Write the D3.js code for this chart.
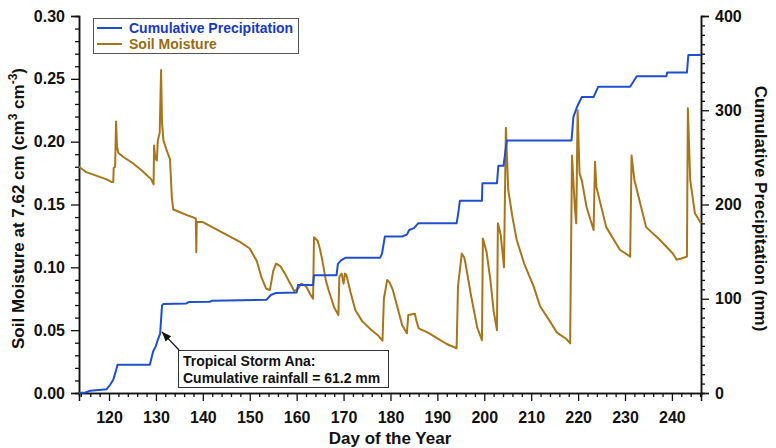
<!DOCTYPE html>
<html><head><meta charset="utf-8">
<script src="https://cdn.jsdelivr.net/npm/d3@7"></script>
<style>
body{margin:0;background:#fff}
svg{display:block}
text{font-family:"Liberation Sans",Arial,Helvetica,sans-serif;font-weight:bold}
</style>
</head><body>
<svg id="chart" width="776" height="448"></svg>
<script>
// ---- data ----
const precipDays = [113.6,115,116,119.5,120.2,120.9,121.5,121.8,128.7,129.4,130,130.3,130.9,131.3,131.6,136.5,137,141.5,142,153.6,154.5,155.5,160,160.3,163.5,163.7,168.5,168.8,169.5,170.5,177.8,178.2,178.8,182.5,183.5,184,185,185.9,194.1,194.4,194.8,199.5,199.6,202.7,203,204.1,204.8,218.6,219,219.8,220.8,223.3,224.3,231.1,232.5,238.8,239,243.2,243.5,246.2];
const precipMM   = [0,0.5,2.5,4,8.5,14,24,30,30,44,50,55,63,93,94.5,95,96.5,96.8,98,99,104,106,106.5,114.6,114.6,125,125,137,141,143.6,143.6,148,166,166,168,173,175,180,180,189,204,204,222.5,222.5,241,241,268,268,293,304,314,314,325,325,336,336,340,340,358.6,358.6];

const soilDays = [113.6,115,116.5,118,119.5,120.5,120.9,121.0,121.3,121.5,121.7,122,123,125,127,129,129.5,129.6,129.8,130.0,130.2,130.4,130.8,131.1,131.3,131.6,132.3,133.0,133.4,133.7,135,137,138.5,138.6,138.7,140,142,144,146,148,150,151.5,152.5,153.5,154.3,155.0,155.6,156.5,157.5,158.5,159.5,160.3,161,162,163,163.5,163.7,164.5,165.0,165.5,166.2,166.8,168.0,168.9,169.1,169.6,170.0,170.3,170.6,171.5,172.5,174,176,177.3,178.3,178.6,179.3,179.8,180.5,181.5,182.5,183.5,183.8,185.2,185.5,186,188,190,192,194.1,194.4,195.2,195.7,196,197.2,198.5,199.5,199.7,200.5,201.3,202.0,202.7,202.9,203.5,203.8,204.2,204.6,205.1,206,206.9,208.5,210.5,211.9,214,215.5,217.5,218.3,218.7,219.3,219.6,219.9,220.3,220.8,221.8,223.3,223.6,223.9,226,228.9,231.1,231.4,232.0,234.5,237.4,240.2,241,242,243.2,243.4,243.9,244.9,246.2];
const soilVWC  = [0.180,0.176,0.174,0.172,0.170,0.168,0.168,0.179,0.180,0.216,0.196,0.191,0.188,0.183,0.177,0.170,0.166,0.197,0.189,0.186,0.185,0.201,0.207,0.257,0.215,0.201,0.193,0.186,0.155,0.146,0.144,0.141,0.139,0.112,0.136,0.136,0.132,0.128,0.124,0.120,0.115,0.105,0.092,0.083,0.082,0.097,0.103,0.101,0.095,0.088,0.081,0.083,0.087,0.085,0.078,0.075,0.124,0.121,0.114,0.105,0.090,0.082,0.068,0.062,0.0925,0.095,0.087,0.095,0.094,0.080,0.066,0.057,0.050,0.046,0.0416,0.075,0.090,0.088,0.082,0.068,0.054,0.0475,0.062,0.063,0.058,0.0515,0.048,0.0435,0.039,0.0356,0.085,0.111,0.108,0.103,0.077,0.052,0.042,0.123,0.112,0.090,0.065,0.050,0.135,0.126,0.115,0.100,0.211,0.162,0.140,0.122,0.103,0.085,0.069,0.057,0.048,0.043,0.0395,0.189,0.148,0.135,0.225,0.175,0.169,0.148,0.1297,0.184,0.164,0.132,0.114,0.1085,0.189,0.1695,0.132,0.122,0.111,0.106,0.107,0.1085,0.2265,0.1695,0.143,0.135];

const dayTicks = [120,130,140,150,160,170,180,190,200,210,220,230,240];
const soilTicks = [0,0.05,0.10,0.15,0.20,0.25,0.30];
const precipTicks = [0,100,200,300,400];
const legendLabels = ["Cumulative Precipitation","Soil Moisture"];
const annotationLines = ["Tropical Storm Ana:","Cumulative rainfall = 61.2 mm"];
const annotationPoint = {day:131.05, mm:66};

// ---- layout ----
const svg = d3.select("#chart");
const L = 79, R = 701, T = 16, B = 393;
const blue = "#1f4fcf", brown = "#a8761a";

const x = d3.scaleLinear().domain([113.6, 246.2]).range([L, R]);
const yL = d3.scaleLinear().domain([0, 0.30]).range([B, T]);
const yR = d3.scaleLinear().domain([0, 400]).range([B, T]);

// minor ticks
const minorDays = d3.range(114, 247, 2).filter(d => d % 10 !== 0);
const minorSoil = d3.range(0, 31).map(i => i/100).filter((v,i) => i % 5 !== 0);
const minorPrecip = d3.range(0, 401, 10).filter(v => v % 100 !== 0);

function styleAxis(g){
  g.select(".domain").attr("stroke","#111").attr("stroke-width",1.5);
  g.selectAll(".tick line").attr("stroke","#111").attr("stroke-width",1.3);
  g.selectAll("text").attr("fill","#111").style("font-size","16px").style("font-weight","bold");
}

svg.append("g").attr("transform",`translate(0,${B})`)
  .call(d3.axisBottom(x).tickValues(minorDays).tickSize(4).tickFormat("")).call(styleAxis);
svg.append("g").attr("transform",`translate(${L},0)`)
  .call(d3.axisLeft(yL).tickValues(minorSoil).tickSize(4).tickFormat("")).call(styleAxis);
svg.append("g").attr("transform",`translate(${R},0)`)
  .call(d3.axisRight(yR).tickValues(minorPrecip).tickSize(4).tickFormat("")).call(styleAxis);

svg.append("g").attr("transform",`translate(0,${B})`)
  .call(d3.axisBottom(x).tickValues(dayTicks).tickSize(8).tickPadding(11).tickFormat(d3.format("d"))).call(styleAxis);
svg.append("g").attr("transform",`translate(${L},0)`)
  .call(d3.axisLeft(yL).tickValues(soilTicks).tickSize(8).tickPadding(6).tickFormat(d3.format(".2f"))).call(styleAxis);
svg.append("g").attr("transform",`translate(${R},0)`)
  .call(d3.axisRight(yR).tickValues(precipTicks).tickSize(8).tickPadding(6).tickFormat(d3.format("d"))).call(styleAxis);

// axis titles
svg.append("text").attr("x",(L+R)/2).attr("y",444).attr("text-anchor","middle")
  .style("font-size","17px").attr("fill","#111").text("Day of the Year");

const lt = svg.append("text").attr("transform",`translate(24,${(T+B)/2+4}) rotate(-90)`)
  .attr("text-anchor","middle").style("font-size","17px").attr("fill","#111");
lt.append("tspan").text("Soil Moisture at 7.62 cm (cm");
lt.append("tspan").attr("dy","-7").style("font-size","12px").text("3");
lt.append("tspan").attr("dy","7").text(" cm");
lt.append("tspan").attr("dy","-7").style("font-size","12px").text("-3");
lt.append("tspan").attr("dy","7").text(")");

svg.append("text").attr("transform",`translate(755,${(T+B)/2+4}) rotate(90)`)
  .attr("text-anchor","middle").style("font-size","17px").attr("fill","#111")
  .text("Cumulative Precipitation (mm)");

// lines
const soilData = soilDays.map((d,i)=>({d, v:soilVWC[i]}));
const precipData = precipDays.map((d,i)=>({d, v:precipMM[i]}));

svg.append("path").datum(soilData)
  .attr("fill","none").attr("stroke",brown).attr("stroke-width",2).attr("stroke-linejoin","round")
  .attr("d", d3.line().x(p=>x(p.d)).y(p=>yL(p.v)));
svg.append("path").datum(precipData)
  .attr("fill","none").attr("stroke",blue).attr("stroke-width",2).attr("stroke-linejoin","round")
  .attr("d", d3.line().x(p=>x(p.d)).y(p=>yR(p.v)));

// legend
const lg = svg.append("g");
lg.append("rect").attr("x",93.5).attr("y",18.5).attr("width",205).attr("height",35)
  .attr("fill","#fff").attr("stroke","#555").attr("stroke-width",1);
[blue, brown].forEach((c,i)=>{
  lg.append("line").attr("x1",97).attr("x2",122).attr("y1",28+i*16).attr("y2",28+i*16)
    .attr("stroke",c).attr("stroke-width",2);
  lg.append("text").attr("x",129).attr("y",33+i*16).style("font-size","14px")
    .attr("fill", i===0 ? "#1838c4" : "#9a6a12").text(legendLabels[i]);
});

// annotation
svg.append("defs").append("marker").attr("id","arr").attr("viewBox","0 0 10 10")
  .attr("refX",10).attr("refY",5).attr("markerWidth",8).attr("markerHeight",8).attr("orient","auto")
  .append("path").attr("d","M0,1 L10,5 L0,9 Z").attr("fill","#111");
const ax = x(annotationPoint.day), ay = yR(annotationPoint.mm);
svg.append("line").attr("x1",179).attr("y1",350).attr("x2",ax+1).attr("y2",ay+1)
  .attr("stroke","#111").attr("stroke-width",1.2).attr("marker-end","url(#arr)");
svg.append("rect").attr("x",178.5).attr("y",350.5).attr("width",210).attr("height",37)
  .attr("fill","#fff").attr("stroke","#333").attr("stroke-width",1);
annotationLines.forEach((t,i)=>{
  svg.append("text").attr("x",183).attr("y",366+i*17).style("font-size","14px").attr("fill","#111").text(t);
});
</script>
</body></html>
